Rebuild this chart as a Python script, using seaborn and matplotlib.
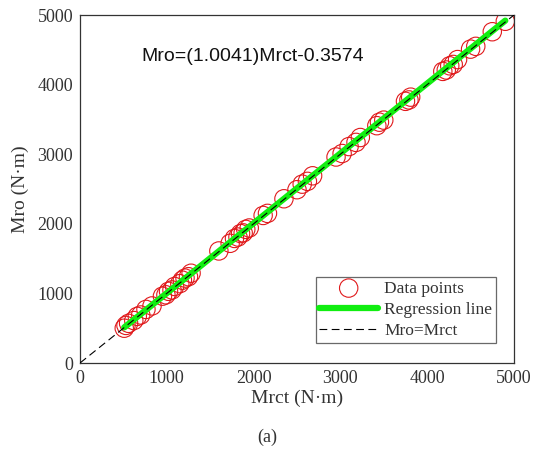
import matplotlib
matplotlib.use("Agg")
import matplotlib.pyplot as plt
import seaborn as sns
import numpy as np
import pandas as pd

# Data
mrct = [510, 530, 560, 620, 660, 700, 760, 830, 950, 990, 1020, 1060, 1090,
        1150, 1180, 1210, 1250, 1280, 1600, 1730, 1780, 1820, 1850, 1880,
        1910, 1950, 2110, 2160, 2350, 2500, 2560, 2620, 2680, 2950, 3020,
        3100, 3180, 3230, 3420, 3450, 3500, 3750, 3790, 3810, 4180, 4220,
        4260, 4300, 4350, 4500, 4560, 4750, 4900]
mro = [500, 540, 570, 610, 670, 690, 770, 820, 960, 980, 1030, 1050, 1100,
       1140, 1190, 1220, 1240, 1290, 1610, 1720, 1790, 1810, 1860, 1870,
       1920, 1940, 2120, 2150, 2360, 2490, 2570, 2610, 2690, 2960, 3010,
       3110, 3170, 3240, 3410, 3460, 3490, 3760, 3780, 3820, 4190, 4210,
       4270, 4290, 4360, 4510, 4550, 4760, 4910]
slope = 1.0041
intercept = -0.3574
equation = "Mro=(1.0041)Mrct-0.3574"
x_ticks = [0, 1000, 2000, 3000, 4000, 5000]
y_ticks = [0, 1000, 2000, 3000, 4000, 5000]

sns.set_theme(style="white")
plt.rcParams['font.family'] = ['Liberation Serif', 'DejaVu Serif']

fig = plt.figure(figsize=(5.35, 4.58), dpi=100)
ax = fig.add_axes([0.1495, 0.2074, 0.9607 - 0.1495, 0.9672 - 0.2074])

df = pd.DataFrame({"Mrct": mrct, "Mro": mro})
line_x = [min(mrct), max(mrct)]
reg_df = pd.DataFrame({"x": line_x, "y": [slope * v + intercept for v in line_x]})
id_df = pd.DataFrame({"x": [0, 5000], "y": [0, 5000]})

sns.scatterplot(data=df, x="Mrct", y="Mro", ax=ax, marker="o", s=175,
                facecolors="none", edgecolor="#e0191b", linewidth=0.8,
                label="Data points", zorder=2)
sns.lineplot(data=reg_df, x="x", y="y", ax=ax, color="#11ee11", linewidth=4.5,
             label="Regression line", zorder=3)
sns.lineplot(data=id_df, x="x", y="y", ax=ax, color="black", linewidth=0.8,
             linestyle=(0, (7, 4)), label="Mro=Mrct", zorder=4)

ax.set_xlim(0, 5000)
ax.set_ylim(0, 5000)
ax.set_xticks(x_ticks)
ax.set_yticks(y_ticks)
ax.tick_params(direction="in", length=4, width=0.8, labelsize=13, colors="#333333",
               labelcolor="#333333", pad=5)
for sp in ax.spines.values():
    sp.set_color("#333333")
    sp.set_linewidth(0.9)
ax.set_xlabel("Mrct (N·m)", fontsize=14, color="#333333", labelpad=2)
ax.set_ylabel("Mro (N·m)", fontsize=14, color="#333333", labelpad=6)

ax.text(710, 4400, equation, fontsize=14, family=['Liberation Sans', 'DejaVu Sans'],
        color="#111111", va="center", ha="left")

leg = ax.legend(loc="lower right", bbox_to_anchor=(0.958, 0.058), fontsize=12.5,
                frameon=True, fancybox=False, edgecolor="#444444",
                handlelength=3.4, handletextpad=0.35, borderpad=0.2,
                labelspacing=0.3, borderaxespad=0)
leg.get_frame().set_linewidth(0.9)
for t in leg.get_texts():
    t.set_color("#333333")

fig.text(0.5, 0.045, "(a)", ha="center", va="center", fontsize=13, color="#333333")

fig.savefig("out.png", dpi=100)
